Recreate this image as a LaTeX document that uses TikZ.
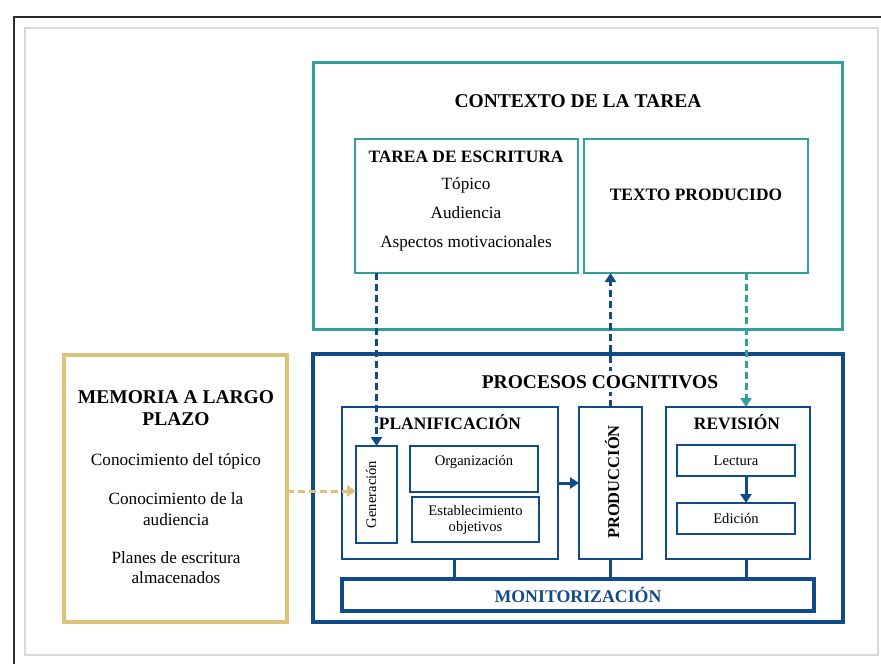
\documentclass[tikz,border=0pt]{standalone}
\usepackage{fontspec}
\setmainfont{Liberation Serif}
\usetikzlibrary{arrows.meta}

\definecolor{tealc}{RGB}{48,160,156}
\definecolor{bluec}{RGB}{16,74,136}
\definecolor{goldc}{RGB}{221,194,122}
\definecolor{framec}{RGB}{45,45,45}
\definecolor{paperc}{RGB}{218,218,218}

\tikzset{
  box/.style={draw, rectangle, inner sep=0pt, outer sep=0pt},
  tealbig/.style={box, draw=tealc, line width=3pt},
  tealbox/.style={box, draw=tealc, line width=2pt},
  bluebig/.style={box, draw=bluec, line width=3.6pt},
  bluebox/.style={box, draw=bluec, line width=2pt},
  goldbig/.style={box, draw=goldc, line width=3.6pt},
  ttl/.style={font=\fontsize{19.5}{22}\selectfont\bfseries, inner sep=0pt, anchor=base},
  hd/.style={font=\fontsize{17.4}{20}\selectfont\bfseries, inner sep=0pt, anchor=base},
  txt/.style={font=\fontsize{17.2}{20}\selectfont, inner sep=0pt, anchor=base},
  sml/.style={font=\fontsize{14.6}{16}\selectfont, inner sep=0pt, anchor=base},
  tip/.style={-{Triangle[width=11pt,length=9pt]}},
  dashline/.style={line width=3pt, dash pattern=on 7pt off 4pt},
  solidline/.style={line width=3pt},
}

\begin{document}
\begin{tikzpicture}[x=1pt, y=-1pt]
  \useasboundingbox (0,0) rectangle (881,664);
  \fill[white] (0,0) rectangle (881,664);

  % page frame
  \draw[paperc, line width=1.3pt] (25,28) rectangle (878,655);
  \draw[framec, line width=2.6pt] (885,17) -- (14,17) -- (14,668);

  % task context
  \node[tealbig, minimum width=529, minimum height=267] (ctx) at (577.5,195.5) {};
  \node[tealbox, minimum width=223, minimum height=134] (tarea) at (466.5,206) {};
  \node[tealbox, minimum width=224, minimum height=134] (texto) at (696,206) {};

  % cognitive processes
  \node[bluebig, minimum width=530, minimum height=268] (proc) at (578,488) {};
  \node[bluebox, minimum width=216, minimum height=152] (plan) at (450,483) {};
  \node[bluebox, minimum width=41, minimum height=97] (gen) at (376.5,494.5) {};
  \node[bluebox, minimum width=128, minimum height=46] (org) at (474,469) {};
  \node[bluebox, minimum width=127, minimum height=45] (est) at (475.5,519.5) {};
  \node[bluebox, minimum width=63, minimum height=152] (prod) at (610.5,483) {};
  \node[bluebox, minimum width=144, minimum height=152] (rev) at (738,483) {};
  \node[bluebox, minimum width=118, minimum height=31] (lect) at (736,460.5) {};
  \node[bluebox, minimum width=118, minimum height=31] (edic) at (736,518.5) {};
  \node[bluebig, minimum width=472, minimum height=32] (moni) at (578,595) {};

  % long-term memory
  \node[goldbig, minimum width=223, minimum height=267] (mem) at (175.5,488.5) {};

  % helper columns for connectors
  \coordinate (rx) at (746,0);
  \coordinate (px) at (454,0);
  \coordinate (gy) at (0,491);

  % links to the monitoring bar
  \draw[bluec, solidline] (plan.south -| px) -- (moni.north -| px);
  \draw[bluec, solidline] (prod.south) -- (moni.north -| prod.south);
  \draw[bluec, solidline] (rev.south -| rx) -- (moni.north -| rx);

  % arrows
  \draw[bluec, dashline, tip] (gen.north |- tarea.south) -- (gen.north);
  \draw[bluec, dashline, tip] (prod.north) -- (prod.north |- texto.south);
  \draw[tealc, dashline, tip] (texto.south -| rx) -- (rev.north -| rx);
  \draw[goldc, dashline, tip] (mem.east |- gy) -- (gen.west |- gy);
  \draw[bluec, solidline, tip] (plan.east) -- (prod.west);
  \draw[bluec, solidline, tip] (lect.south -| rx) -- (edic.north -| rx);

  % texts
  \node[ttl] (ctxT) at (578,107.5) {CONTEXTO DE LA TAREA};
  \node[hd] (tareaT) at (466,162) {TAREA DE ESCRITURA};
  \node[txt] (tar1) at (466,189) {Tópico};
  \node[txt] (tar2) at (466,218) {Audiencia};
  \node[txt] (tar3) at (466,247) {Aspectos motivacionales};
  \node[hd] (textoT) at (696,200) {TEXTO PRODUCIDO};

  \node[ttl, fill=white, inner xsep=3pt, inner ysep=4pt] (procT) at (600,388) {PROCESOS COGNITIVOS};
  \node[hd] (planT) at (450,429) {PLANIFICACIÓN};
  \node[sml, anchor=center, rotate=90] (genT) at (371,494.5) {Generación};
  \node[sml] (orgT) at (474,465) {Organización};
  \node[sml] (est1) at (475.5,515) {Establecimiento};
  \node[sml] (est2) at (475.5,531) {objetivos};
  \node[hd, anchor=center, rotate=90, font=\fontsize{16.5}{18}\selectfont\bfseries] (prodT) at (612,482) {PRODUCCIÓN};
  \node[hd] (revT) at (737,429) {REVISIÓN};
  \node[sml] (lectT) at (736,465) {Lectura};
  \node[sml] (edicT) at (736,523) {Edición};
  \node[hd, text=bluec, font=\fontsize{17.8}{20}\selectfont\bfseries] (moniT) at (578,602) {MONITORIZACIÓN};

  \node[ttl] (mem1) at (176,403) {MEMORIA A LARGO};
  \node[ttl] (mem2) at (176,425) {PLAZO};
  \node[txt] (mem3) at (176,465) {Conocimiento del tópico};
  \node[txt] (mem4) at (176,504) {Conocimiento de la};
  \node[txt] (mem5) at (176,525) {audiencia};
  \node[txt] (mem6) at (176,563) {Planes de escritura};
  \node[txt] (mem7) at (176,583) {almacenados};
\end{tikzpicture}
\end{document}
